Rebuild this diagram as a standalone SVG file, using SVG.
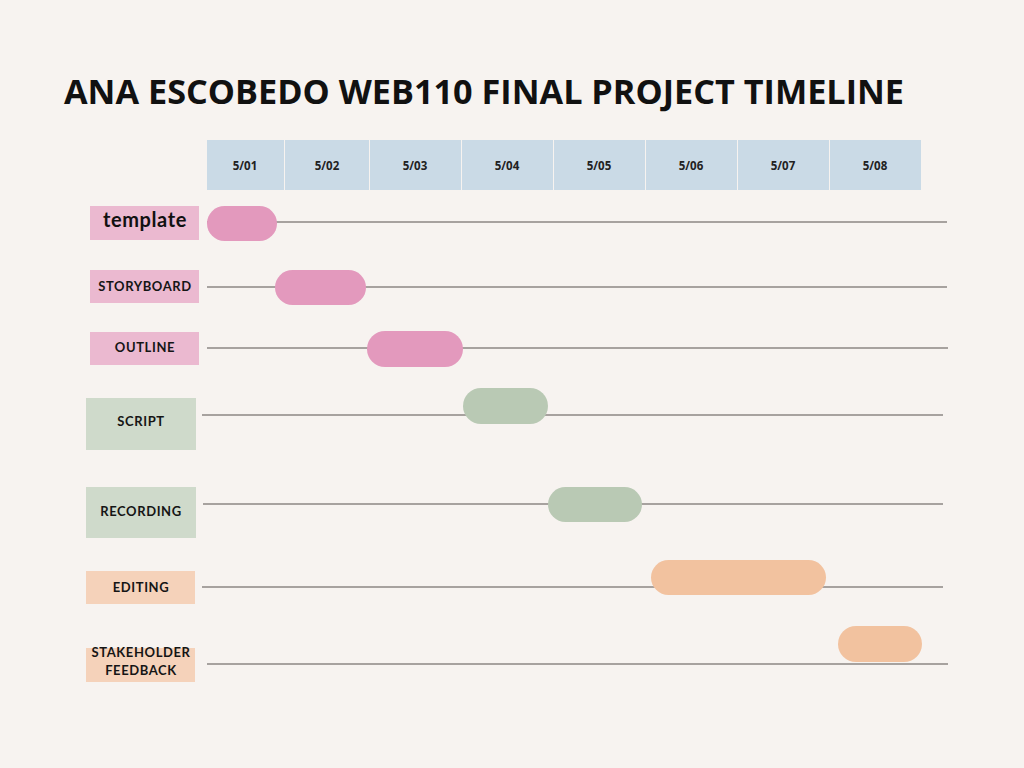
<svg xmlns="http://www.w3.org/2000/svg" width="1024" height="768" viewBox="0 0 1024 768">
<style>
.title{font-family:"Open Sans","Liberation Sans",sans-serif;font-weight:700;font-size:34px;fill:#111}
.date{font-family:"Open Sans","Liberation Sans",sans-serif;font-weight:700;font-size:11.5px;fill:#222;text-anchor:middle}
.lbl{font-family:Lato,"Liberation Sans",sans-serif;font-weight:700;font-size:13px;fill:#151515;text-anchor:middle;letter-spacing:0.6px}
.hcell{fill:#cadae6}
.pinkL{fill:#ebb9d0}.pinkB{fill:#e399bd}
.greenL{fill:#cfdacb}.greenB{fill:#b9c9b4}
.orangeL{fill:#f5d2ba}.orangeB{fill:#f2c29f}
.track{stroke:#8c8784;stroke-width:1.3;fill:none}
</style>
<rect width="1024" height="768" fill="#f7f3f0"/>
<text class="title" x="64" y="104" textLength="840" lengthAdjust="spacingAndGlyphs">ANA ESCOBEDO WEB110 FINAL PROJECT TIMELINE</text>
<g id="header">
<rect class="hcell" x="207" y="140" width="77" height="50"/>
<rect class="hcell" x="285" y="140" width="84" height="50"/>
<rect class="hcell" x="370" y="140" width="91" height="50"/>
<rect class="hcell" x="462" y="140" width="91" height="50"/>
<rect class="hcell" x="554" y="140" width="91" height="50"/>
<rect class="hcell" x="646" y="140" width="91" height="50"/>
<rect class="hcell" x="738" y="140" width="91" height="50"/>
<rect class="hcell" x="830" y="140" width="91" height="50"/>
<text class="date" x="245" y="170">5/01</text>
<text class="date" x="327" y="170">5/02</text>
<text class="date" x="415" y="170">5/03</text>
<text class="date" x="507" y="170">5/04</text>
<text class="date" x="599" y="170">5/05</text>
<text class="date" x="691" y="170">5/06</text>
<text class="date" x="783" y="170">5/07</text>
<text class="date" x="875" y="170">5/08</text>
</g>
<g id="connectors">
<line class="track" x1="207" y1="222" x2="947" y2="222"/>
<line class="track" x1="207" y1="287" x2="947" y2="287"/>
<line class="track" x1="207" y1="348" x2="948" y2="348"/>
<line class="track" x1="202" y1="415" x2="943" y2="415"/>
<line class="track" x1="203" y1="504" x2="943" y2="504"/>
<line class="track" x1="202" y1="587" x2="943" y2="587"/>
<line class="track" x1="207" y1="664" x2="948" y2="664"/>
</g>
<g id="template">
<rect class="pinkL" x="90" y="206" width="109" height="34"/>
<text x="145" y="227" text-anchor="middle" style="font-family:Lato,'Liberation Sans',sans-serif;font-weight:700;font-size:20px;letter-spacing:0.6px;fill:#111">template</text>
<rect class="pinkB" x="207" y="206" width="70" height="35" rx="17.5"/>
</g>
<g id="storyboard">
<rect class="pinkL" x="90" y="270" width="109" height="33"/>
<text class="lbl" x="145" y="291">STORYBOARD</text>
<rect class="pinkB" x="275" y="270" width="91" height="35" rx="17.5"/>
</g>
<g id="outline">
<rect class="pinkL" x="90" y="332" width="109" height="33"/>
<text class="lbl" x="145" y="352">OUTLINE</text>
<rect class="pinkB" x="367" y="331" width="96" height="36" rx="18"/>
</g>
<g id="script">
<rect class="greenL" x="86" y="398" width="110" height="52"/>
<text class="lbl" x="141" y="426">SCRIPT</text>
<rect class="greenB" x="463" y="388" width="85" height="36" rx="18"/>
</g>
<g id="recording">
<rect class="greenL" x="86" y="487" width="110" height="51"/>
<text class="lbl" x="141" y="516">RECORDING</text>
<rect class="greenB" x="548" y="487" width="94" height="35" rx="17.5"/>
</g>
<g id="editing">
<rect class="orangeL" x="86" y="571" width="109" height="33"/>
<text class="lbl" x="141" y="592">EDITING</text>
<rect class="orangeB" x="651" y="560" width="175" height="35" rx="17.5"/>
</g>
<g id="stakeholder-feedback">
<rect class="orangeL" x="86" y="648" width="109" height="34"/>
<text class="lbl" x="141" y="657">STAKEHOLDER</text>
<text class="lbl" x="141" y="675">FEEDBACK</text>
<rect class="orangeB" x="838" y="626" width="84" height="36" rx="18"/>
</g>
</svg>
